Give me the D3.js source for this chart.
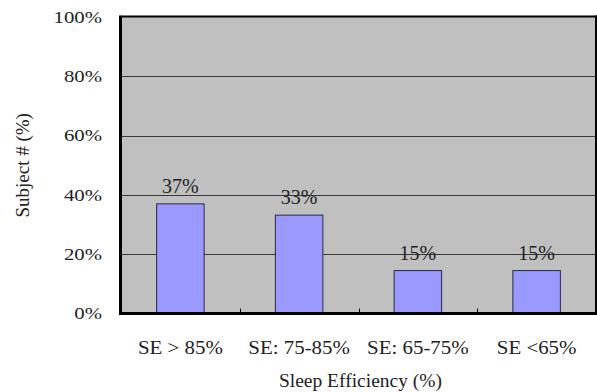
<!DOCTYPE html>
<html><head><meta charset="utf-8">
<script src="https://cdn.jsdelivr.net/npm/d3@7"></script>
<style>body{margin:0;background:#fff}svg{display:block}</style>
</head><body>
<script>
const categories = ["SE > 85%", "SE: 75-85%", "SE: 65-75%", "SE <65%"];
const values = [37, 33.2, 14.5, 14.5];
const valueLabels = ["37%", "33%", "15%", "15%"];
const yTicks = [0, 20, 40, 60, 80, 100];
const yTickLabels = ["0%", "20%", "40%", "60%", "80%", "100%"];
const xTitle = "Sleep Efficiency (%)";
const yTitle = "Subject # (%)";

const W = 597, H = 392;
const L = 121, R = 596, T = 17, B = 313.6;
const FONT = "Liberation Serif, Times New Roman, Times, serif";
const svg = d3.select("body").append("svg").attr("width", W).attr("height", H)
  .attr("font-family", FONT);

const x = d3.scaleBand().domain(categories).range([L, R]).paddingInner(0.6).paddingOuter(0.3);
const y = d3.scaleLinear().domain([0, 100]).range([B, T]);

svg.append("rect").attr("x", L).attr("y", T).attr("width", R - L).attr("height", B - T).attr("fill", "#C0C0C0");

svg.append("g").selectAll("line").data(yTicks.filter(d => d > 0 && d < 100)).join("line")
  .attr("x1", L).attr("x2", R).attr("y1", d => Math.round(y(d)) + 0.5).attr("y2", d => Math.round(y(d)) + 0.5)
  .attr("stroke", "#3a3a3a").attr("stroke-width", 1.2);

svg.append("g").selectAll("rect").data(categories).join("rect")
  .attr("x", d => x(d)).attr("width", x.bandwidth())
  .attr("y", (d, i) => y(values[i])).attr("height", (d, i) => B - y(values[i]))
  .attr("fill", "#9999FF").attr("stroke", "#2a2a40").attr("stroke-width", 1);

svg.append("g").selectAll("text").data(categories).join("text")
  .attr("font-family", FONT)
  .attr("x", d => x(d) + x.bandwidth() / 2).attr("y", (d, i) => y(values[i]) - 11)
  .attr("text-anchor", "middle").attr("font-size", 20).attr("fill", "#222")
  .text((d, i) => valueLabels[i]);

const step = x.step();
svg.append("g").selectAll("line").data(categories.slice(1)).join("line")
  .attr("x1", d => Math.round(x(d) - x.paddingInner() * step / 2) + 0.5)
  .attr("x2", d => Math.round(x(d) - x.paddingInner() * step / 2) + 0.5)
  .attr("y1", B - 5).attr("y2", B).attr("stroke", "#000").attr("stroke-width", 1);

svg.append("line").attr("x1", L).attr("x2", R + 1).attr("y1", T - 0.5).attr("y2", T - 0.5).attr("stroke", "#000").attr("stroke-width", 2);
svg.append("line").attr("x1", R).attr("x2", R).attr("y1", T - 1.5).attr("y2", B).attr("stroke", "#000").attr("stroke-width", 2);
svg.append("line").attr("x1", L - 0.5).attr("x2", L - 0.5).attr("y1", T - 1.5).attr("y2", B + 1.5).attr("stroke", "#000").attr("stroke-width", 3);
svg.append("line").attr("x1", L - 2).attr("x2", R + 1).attr("y1", B).attr("y2", B).attr("stroke", "#000").attr("stroke-width", 3);

svg.append("g").selectAll("text").data(yTicks).join("text")
  .attr("font-family", FONT)
  .attr("transform", d => `translate(102,${y(d)}) scale(1.3,1)`)
  .attr("dy", "0.35em").attr("text-anchor", "end").attr("font-size", 16).attr("fill", "#222")
  .text((d, i) => yTickLabels[i]);

svg.append("g").selectAll("text").data(categories).join("text")
  .attr("font-family", FONT)
  .attr("transform", d => `translate(${x(d) + x.bandwidth() / 2},354) scale(1.1,1)`)
  .attr("text-anchor", "middle").attr("font-size", 19).attr("fill", "#222")
  .text(d => d);

svg.append("text").attr("font-family", FONT).attr("x", (L + R) / 2 + 2).attr("y", 387).attr("text-anchor", "middle")
  .attr("font-size", 19.5).attr("fill", "#222").text(xTitle);
svg.append("text").attr("font-family", FONT).attr("transform", `translate(28.5,${(T + B) / 2}) rotate(-90)`)
  .attr("text-anchor", "middle").attr("font-size", 19).attr("fill", "#222").text(yTitle);
</script>
</body></html>
